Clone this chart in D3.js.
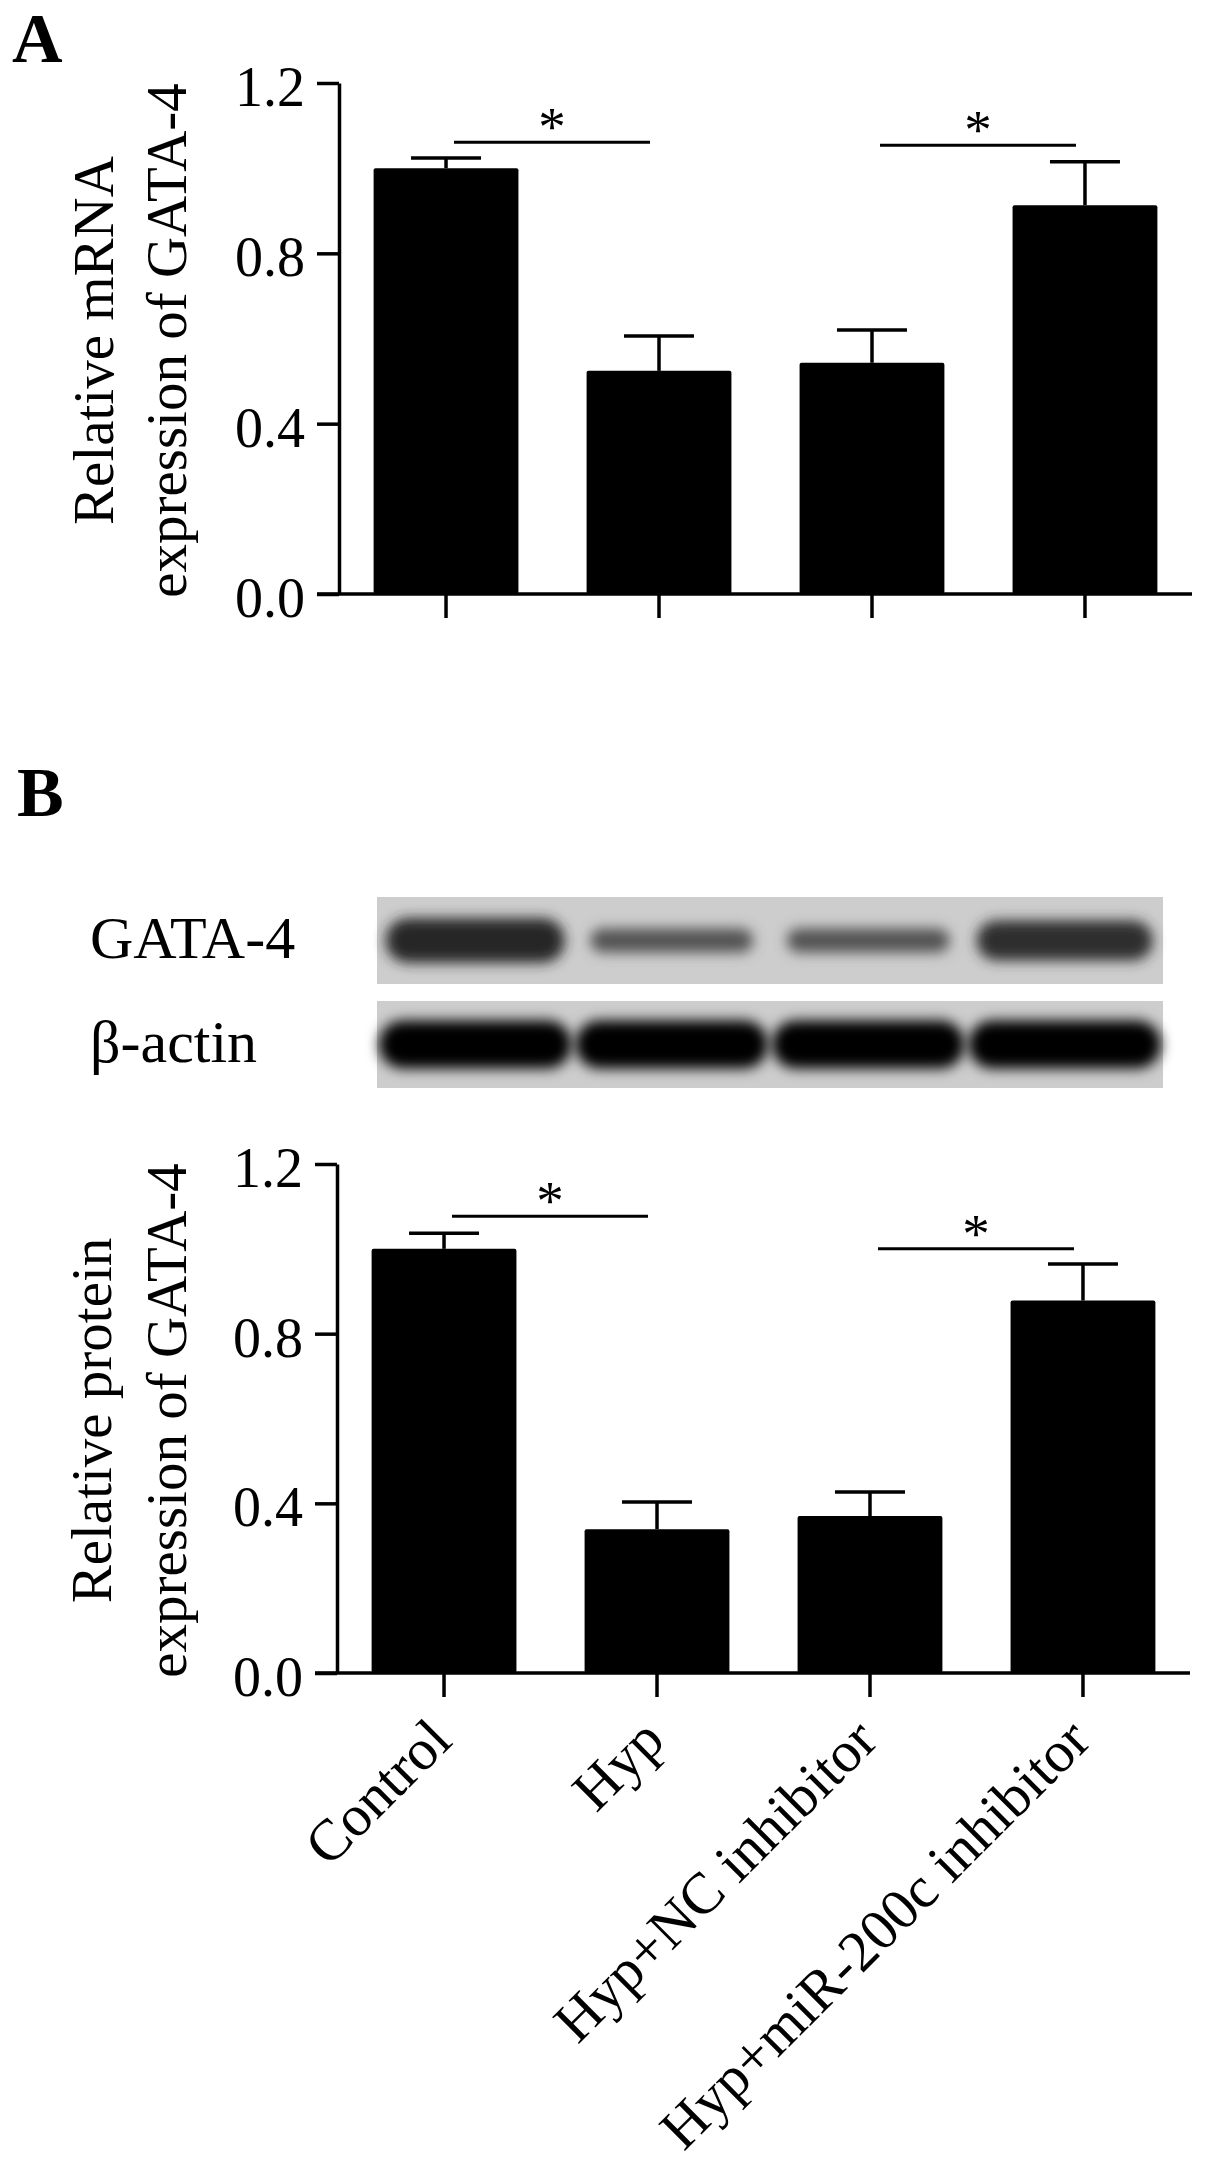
<!DOCTYPE html>
<html>
<head>
<meta charset="utf-8">
<script src="https://cdn.jsdelivr.net/npm/d3@7"></script>
<style>
  html, body { margin: 0; padding: 0; background: #fff; }
  svg text { font-family: "Liberation Serif", "Times New Roman", serif; fill: #000; }
</style>
</head>
<body>
<svg id="fig" width="1205" height="2176"></svg>
<script>
// groups and values
const groups = ["Control", "Hyp", "Hyp+NC inhibitor", "Hyp+miR-200c inhibitor"];
const mrnaMean = [1.0, 0.524, 0.543, 0.913];
const mrnaErr = [0.024, 0.082, 0.077, 0.102];
const proteinMean = [1.0, 0.339, 0.370, 0.878];
const proteinErr = [0.037, 0.064, 0.057, 0.086];
const yTicks = [0, 0.4, 0.8, 1.2];
// [from group, to group, height of the bracket]
const mrnaSig = [[0, 1, 1.061], [2, 3, 1.054]];
const proteinSig = [[0, 1, 1.077], [2, 3, 1.0]];
// western blot band darkness (0 = background, 1 = black)
const gataBand = [0.82, 0.6, 0.6, 0.78];
const actinBand = [1, 1, 1, 1];

const svg = d3.select("#fig");

const defs = svg.append("defs");
defs.append("filter").attr("id", "blur")
    .attr("x", "-20%").attr("y", "-80%").attr("width", "140%").attr("height", "260%")
  .append("feGaussianBlur").attr("stdDeviation", 6.5);

function barPanel(o) {
    const x = d3.scaleBand().domain(groups).range([o.left, o.right])
        .paddingInner(0.32).paddingOuter(0.1625);
    const y = d3.scaleLinear().domain([0, 1.2]).range([o.bottom, o.top]);
    const g = svg.append("g");
    const cx = k => x(k) + x.bandwidth() / 2;
    const rows = groups.map((k, i) => ({ k, m: o.mean[i], e: o.err[i] }));

    // error bars first, bars drawn on top
    const eb = g.selectAll("g.err").data(rows).join("g").attr("class", "err");
    eb.append("line")
        .attr("x1", d => cx(d.k)).attr("x2", d => cx(d.k))
        .attr("y1", d => y(d.m)).attr("y2", d => y(d.m + d.e))
        .attr("stroke", "#000").attr("stroke-width", 3.5);
    eb.append("line")
        .attr("x1", d => cx(d.k) - 35).attr("x2", d => cx(d.k) + 35)
        .attr("y1", d => y(d.m + d.e)).attr("y2", d => y(d.m + d.e))
        .attr("stroke", "#000").attr("stroke-width", 3.5);

    g.selectAll("rect.bar").data(rows).join("rect").attr("class", "bar")
        .attr("x", d => x(d.k)).attr("width", x.bandwidth())
        .attr("y", d => y(d.m)).attr("height", d => y(0) - y(d.m))
        .attr("rx", 2).attr("fill", "#000");

    // y axis
    const ya = g.append("g").attr("transform", `translate(${o.left},0)`)
        .call(d3.axisLeft(y).tickValues(yTicks).tickFormat(d3.format(".1f"))
            .tickSize(22).tickSizeOuter(0).tickPadding(12));
    ya.attr("font-size", 56);
    ya.selectAll("path, line").attr("stroke-width", 3.5);
    ya.selectAll("text").attr("dy", "0.4em");

    // x axis
    const xa = g.append("g").attr("transform", `translate(0,${o.bottom})`)
        .call(d3.axisBottom(x).tickSize(24).tickSizeOuter(0));
    xa.select(".domain").remove();
    xa.selectAll("line").attr("stroke-width", 3.5);
    xa.append("line").attr("x1", o.left - 22).attr("x2", o.right)
        .attr("stroke", "#000").attr("stroke-width", 3.5);
    if (o.labels) {
        xa.attr("font-size", 58);
        xa.selectAll(".tick text")
            .attr("x", 0).attr("y", 0).attr("dy", 0)
            .attr("text-anchor", "end")
            .attr("transform", "translate(10,70) rotate(-45)");
    } else {
        xa.selectAll(".tick text").remove();
    }

    // significance brackets
    o.sig.forEach(([a, b, v]) => {
        const x1 = cx(groups[a]) + 8, x2 = cx(groups[b]) - 9;
        g.append("line").attr("x1", x1).attr("x2", x2)
            .attr("y1", y(v)).attr("y2", y(v))
            .attr("stroke", "#000").attr("stroke-width", 3);
        g.append("text").attr("x", (x1 + x2) / 2).attr("y", y(v) + 3)
            .attr("text-anchor", "middle").attr("font-size", 55).text("*");
    });

    // axis title, two lines
    o.title.forEach((t, i) => {
        g.append("text")
            .attr("transform", `translate(${o.titleX[i]},${(o.top + o.bottom) / 2 + 2}) rotate(-90)`)
            .attr("text-anchor", "middle").attr("font-size", 57).text(t);
    });
}

// panel A
svg.append("text").attr("x", 12).attr("y", 62).attr("font-size", 70)
    .attr("font-weight", "bold").text("A");
barPanel({
    left: 339, right: 1192, top: 83, bottom: 594,
    mean: mrnaMean, err: mrnaErr, sig: mrnaSig, labels: false,
    title: ["Relative mRNA", "expression of GATA-4"], titleX: [113, 186]
});

// panel B
svg.append("text").attr("x", 17).attr("y", 816).attr("font-size", 70)
    .attr("font-weight", "bold").text("B");

// blot strips
const lane = d3.scaleBand().domain(groups).range([377, 1163]);
const shade = d3.scaleLinear().domain([0, 1]).range(["#cdcdcd", "#000"]);
const blot = [
    { label: "GATA-4", top: 897, h: 87, maxH: 66, bands: gataBand },
    { label: "β-actin", top: 1001, h: 87, maxH: 48, bands: actinBand }
];
blot.forEach(r => {
    const g = svg.append("g");
    g.append("rect").attr("x", 377).attr("y", r.top).attr("width", 786).attr("height", r.h)
        .attr("fill", "#cdcdcd");
    g.selectAll("rect.band").data(r.bands).join("rect").attr("class", "band")
        .attr("width", d => lane.bandwidth() * (0.6 + 0.38 * d))
        .attr("height", d => r.maxH * d * d)
        .attr("x", (d, i) => lane(groups[i]) + lane.bandwidth() / 2 - lane.bandwidth() * (0.6 + 0.38 * d) / 2)
        .attr("y", d => r.top + r.h / 2 - r.maxH * d * d / 2)
        .attr("rx", d => r.maxH * d * d / 2)
        .attr("fill", d => shade(d))
        .attr("filter", "url(#blur)");
    g.append("text").attr("x", 90).attr("y", r.top + r.h / 2 + 17)
        .attr("font-size", 60).text(r.label);
});

barPanel({
    left: 337, right: 1190, top: 1164, bottom: 1673,
    mean: proteinMean, err: proteinErr, sig: proteinSig, labels: true,
    title: ["Relative protein", "expression of GATA-4"], titleX: [111, 186]
});
</script>
</body>
</html>
